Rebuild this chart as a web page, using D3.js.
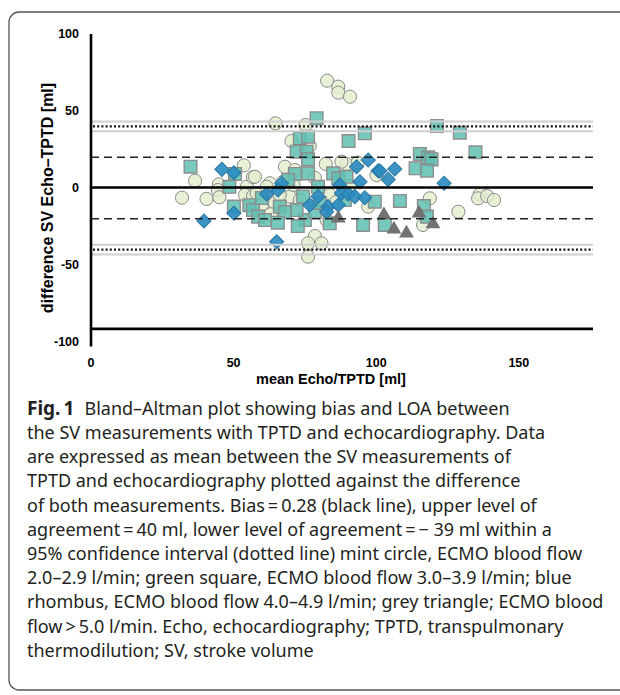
<!DOCTYPE html>
<html>
<head>
	<meta charset="utf-8">
	<title></title>
	<style>
		body { margin: 0; background: #fff; }
		svg { display: block; }
	</style>
</head>
<body>
	<svg id="container" width="620" height="695"></svg>
</body>
<script src="https://d3js.org/d3.v7.min.js"></script>
<script>
	// [mean Echo/TPTD, difference Echo-TPTD] per ECMO blood flow group
	let flow2 = [ // mint circle, 2.0-2.9 l/min
		[36.5,4.7],[31.9,-6.3],[40.5,-7.1],[53.6,14.7],[44.8,2.4],[44.5,-1.3],[45.0,-6.0],
		[54.6,0.8],[54.0,-4.5],[56.8,7.1],[56.8,-5.2],[82.8,69.7],[86.7,65.8],[86.7,61.9],
		[90.8,59.3],[64.7,42.0],[75.2,40.9],[70.3,30.5],[76.7,27.3],[82.3,15.6],[89.6,15.6],
		[87.8,17.1],[68.0,13.8],[57.5,7.3],[62.7,3.1],[97.2,-12.1],[64.5,-9.9],[69.7,-5.6],
		[78.5,-31.2],[76.1,-35.9],[80.8,-35.9],[76.1,-44.6],[118.8,-6.7],[116.4,-24.0],
		[128.8,-15.4],[136.3,-4.1],[135.7,-6.7],[138.9,-5.2],[141.3,-7.8],[58.1,-3.4],
		[61.6,0.8],[71.5,11.7],[82.6,-20.8],[100.1,8.4],[66.2,-4.5],[73.2,-7.8],[59.9,-11.0],
		[78.5,6.5],[67.3,3.9],[83.7,-4.5],[90.8,1.3],[93.5,16.5],[63.0,-17.0],[71.0,2.0],[86.0,-9.0]
	]
	let flow3 = [ // green square, 3.0-3.9 l/min
		[34.9,13.8],[50.5,9.1],[48.5,0.8],[50.1,-12.1],[55.5,-11.2],[56.8,-14.3],[79.1,45.3],
		[96.0,35.5],[90.3,30.5],[73.2,32.3],[76.1,33.3],[72.1,23.6],[75.6,23.6],[76.1,18.6],
		[76.1,9.5],[71.5,9.1],[84.9,9.5],[86.7,6.3],[69.1,5.2],[79.6,0.8],[99.5,-8.9],
		[95.4,-24.0],[83.7,-22.9],[75.0,-20.8],[66.2,-12.1],[58.6,-18.6],[61.0,-20.8],
		[72.1,-14.3],[74.4,-5.6],[78.5,-15.4],[121.3,40.3],[129.3,35.9],[134.8,23.2],
		[115.3,22.1],[118.2,19.9],[119.4,18.6],[113.8,12.8],[117.8,11.2],[108.3,-8.4],
		[116.7,-11.7],[117.8,-18.6],[103.0,-24.0],[89.6,7.3],[59.9,-6.5],[68.0,-15.6],
		[80.2,-9.7],[89.0,-7.8],[72.5,-24.7],[65.5,-22.5]
	]
	let flow4 = [ // blue rhombus, 4.0-4.9 l/min
		[45.9,12.1],[50.1,9.9],[50.1,-16.4],[39.6,-21.4],[97.2,18.2],[93.1,13.8],[100.7,11.2],
		[94.3,4.1],[66.8,3.1],[65.6,-1.3],[61.6,-3.9],[87.2,1.9],[87.8,-3.4],[90.2,-3.9],
		[92.5,-5.6],[96.0,-6.3],[79.6,-5.6],[76.7,-11.0],[83.1,-12.1],[86.7,-11.0],[82.6,-15.4],
		[65.1,-34.9],[106.5,12.3],[104.2,5.6],[101.3,11.0],[123.8,3.1]
	]
	let flow5 = [ // grey triangle, > 5.0 l/min
		[86.7,-19.7],[102.7,-17.5],[106.2,-26.8],[110.6,-29.4],[115.0,-16.4],[119.9,-23.4]
	]

	let bias = 0.28
	let sdLines = [20, -20]          // dashed
	let loaLines = [40, -40]         // dotted
	let ciBand = 3.2                 // grey lines around LOA
	let xTicks = [0, 50, 100, 150]
	let yTicks = [100, 50, 0, -50, -100]

	let caption = [
		"the SV measurements with TPTD and echocardiography. Data",
		"are expressed as mean between the SV measurements of",
		"TPTD and echocardiography plotted against the difference",
		"of both measurements. Bias\u2009=\u20090.28 (black line), upper level of",
		"agreement\u2009=\u200940 ml, lower level of agreement\u2009=\u2009\u2212 39 ml within a",
		"95% confidence interval (dotted line) mint circle, ECMO blood flow",
		"2.0\u20132.9 l/min; green square, ECMO blood flow 3.0\u20133.9 l/min; blue",
		"rhombus, ECMO blood flow 4.0\u20134.9 l/min; grey triangle; ECMO blood",
		"flow\u2009>\u20095.0 l/min. Echo, echocardiography; TPTD, transpulmonary",
		"thermodilution; SV, stroke volume"
	]

	let svg = d3.select("#container")

	svg.append("rect")
		.attr("x", 9).attr("y", 12)
		.attr("width", 680).attr("height", 678)
		.attr("rx", 10)
		.attr("fill", "white")
		.attr("stroke", "#555")
		.attr("stroke-width", 1.3)

	let x = d3.scaleLinear().domain([0, 176]).range([91, 593])
	let y = d3.scaleLinear().domain([-100, 100]).range([342, 34])

	let plot = svg.append("g")

	// points: circles under squares under rhombi under triangles
	let sym = d3.symbol()
	plot.selectAll(".c").data(flow2).enter().append("path")
		.attr("d", sym.type(d3.symbolCircle).size(136)())
		.attr("transform", d => `translate(${x(d[0])},${y(d[1])})`)
		.attr("fill", "#e2eecf").attr("fill-opacity", 0.85)
		.attr("stroke", "#8a8a8a").attr("stroke-width", 1)

	plot.selectAll(".s").data(flow3).enter().append("path")
		.attr("d", d3.symbol().type(d3.symbolSquare).size(160)())
		.attr("transform", d => `translate(${x(d[0])},${y(d[1])})`)
		.attr("fill", "#5fc0b2").attr("fill-opacity", 0.85)
		.attr("stroke", "#8d8d8d").attr("stroke-width", 1.4)

	plot.selectAll(".r").data(flow4).enter().append("path")
		.attr("d", d3.symbol().type(d3.symbolSquare).size(100)())
		.attr("transform", d => `translate(${x(d[0])},${y(d[1])}) rotate(45)`)
		.attr("fill", "#2b8cc0").attr("fill-opacity", 0.92)
		.attr("stroke", "#2a77a3").attr("stroke-width", 1)

	plot.selectAll(".t").data(flow5).enter().append("path")
		.attr("d", d3.symbol().type(d3.symbolTriangle).size(95)())
		.attr("transform", d => `translate(${x(d[0])},${y(d[1])})`)
		.attr("fill", "#727272")

	// reference lines
	let lines = svg.append("g")
	for (let v of loaLines) {
		for (let off of [-ciBand, ciBand]) {
			lines.append("line")
				.attr("x1", x(0)).attr("x2", x(176))
				.attr("y1", y(v + off)).attr("y2", y(v + off))
				.attr("stroke", "#cfcfcf").attr("stroke-width", 2)
		}
		lines.append("line")
			.attr("x1", x(0) + 2).attr("x2", x(176))
			.attr("y1", y(v)).attr("y2", y(v))
			.attr("stroke", "#111").attr("stroke-width", 2.2)
			.attr("stroke-dasharray", "2,2.2")
	}
	for (let v of sdLines) {
		lines.append("line")
			.attr("x1", x(0)).attr("x2", x(176))
			.attr("y1", y(v)).attr("y2", y(v))
			.attr("stroke", "#222").attr("stroke-width", 1.4)
			.attr("stroke-dasharray", "8,5")
	}
	lines.append("line")
		.attr("x1", x(0)).attr("x2", x(176))
		.attr("y1", y(bias)).attr("y2", y(bias))
		.attr("stroke", "black").attr("stroke-width", 2.6)

	// axes
	svg.append("line")
		.attr("x1", x(0)).attr("x2", x(0))
		.attr("y1", y(100)).attr("y2", y(-103))
		.attr("stroke", "black").attr("stroke-width", 2.6)
	svg.append("line")
		.attr("x1", x(0)).attr("x2", x(176))
		.attr("y1", y(-91.5)).attr("y2", y(-91.5))
		.attr("stroke", "black").attr("stroke-width", 2.6)

	let font = "Liberation Sans, Arial, sans-serif"
	svg.selectAll(".ytick").data(yTicks).enter().append("text")
		.attr("x", 79).attr("y", d => y(d))
		.attr("dy", "0.35em")
		.attr("text-anchor", "end")
		.attr("font-family", font).attr("font-weight", "bold").attr("font-size", 12.5)
		.text(d => d)
	svg.selectAll(".xtick").data(xTicks).enter().append("text")
		.attr("x", d => x(d)).attr("y", 367)
		.attr("text-anchor", "middle")
		.attr("font-family", font).attr("font-weight", "bold").attr("font-size", 12.5)
		.text(d => d)

	svg.append("text")
		.attr("x", 331).attr("y", 384)
		.attr("text-anchor", "middle")
		.attr("font-family", font).attr("font-weight", "bold").attr("font-size", 14.5)
		.text("mean Echo/TPTD [ml]")
	svg.append("text")
		.attr("transform", "translate(53,198) rotate(-90)")
		.attr("text-anchor", "middle")
		.attr("font-family", font).attr("font-weight", "bold").attr("font-size", 16)
		.text("difference SV Echo\u2013TPTD [ml]")

	// caption
	let cap = svg.append("g")
		.attr("font-family", "Noto Sans, Open Sans, sans-serif")
		.attr("font-size", 18)
		.attr("fill", "#231f20")
	let first = cap.append("text").attr("x", 27).attr("y", 415)
	first.append("tspan").attr("font-weight", "bold").attr("font-size", 19).text("Fig.\u20091")
	first.append("tspan").attr("dx", 10).text("Bland\u2013Altman plot showing bias and LOA between")
	cap.selectAll(".cl").data(caption).enter().append("text")
		.attr("x", 27)
		.attr("y", (d, i) => 439 + i * 24.2)
		.text(d => d)
</script>
</html>
